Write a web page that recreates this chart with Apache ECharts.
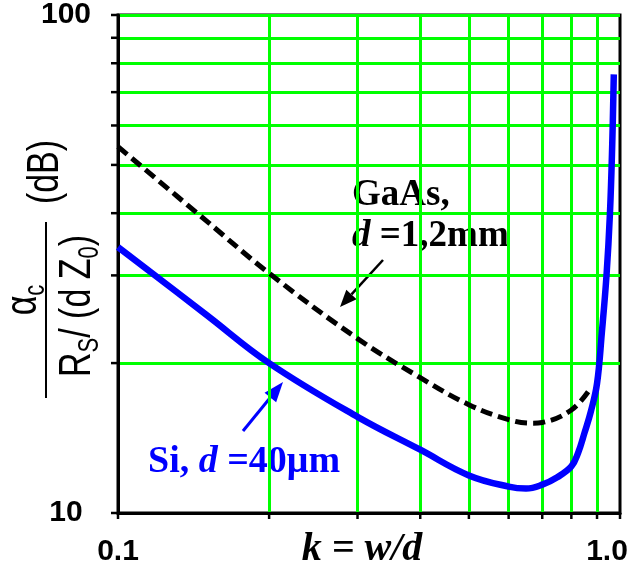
<!DOCTYPE html>
<html>
<head>
<meta charset="utf-8">
<script src="https://cdn.jsdelivr.net/npm/echarts@6/dist/echarts.min.js"></script>
<style>
html,body{margin:0;padding:0;background:#fff;}
#chart{width:631px;height:568px;}
</style>
</head>
<body>
<div id="chart"></div>
<script>
// k = w/d  ->  alpha_c / (Rs/(d Z0))  in dB
const kSi = [0.1, 0.15, 0.2, 0.3, 0.4, 0.5, 0.6, 0.65, 0.7, 0.75, 0.8, 0.825, 0.85, 0.875, 0.9, 0.92, 0.94, 0.955, 0.965, 0.972];
const alphaSi = [34.2, 25.0, 20, 15.6, 13.4, 11.9, 11.3, 11.2, 11.4, 11.8, 12.4, 13.2, 14.5, 16.0, 18.2, 23, 30, 40, 55, 76];

const kGaAs = [0.1, 0.15, 0.2, 0.3, 0.4, 0.5, 0.6, 0.67, 0.7, 0.8, 0.87];
const alphaGaAs = [54.4, 38.6, 30.3, 22.4, 18.7, 16.5, 15.4, 15.15, 15.2, 16.1, 17.7];

const xTicks = [0.1, 0.2, 0.3, 0.4, 0.5, 0.6, 0.7, 0.8, 0.9, 1];
const yTicks = [10, 20, 30, 40, 50, 60, 70, 80, 90, 100];
const xLabels = [0.1, 1];
const yLabels = [10, 100];

const SANS = 'Liberation Sans';
const SERIF = 'Liberation Serif';

// annotation arrow (shaft + filled head)
function arrow(x1, y1, x2, y2, color, w, hl, hw) {
  const dx = x2 - x1, dy = y2 - y1, len = Math.hypot(dx, dy);
  const ux = dx / len, uy = dy / len;
  const bx = x2 - ux * hl, by = y2 - uy * hl;
  return [
    {type: 'line', shape: {x1: x1, y1: y1, x2: bx, y2: by}, style: {stroke: color, lineWidth: w}},
    {type: 'polygon', shape: {points: [[x2, y2], [bx - uy * hw / 2, by + ux * hw / 2], [bx + uy * hw / 2, by - ux * hw / 2]]},
      style: {fill: color}}
  ];
}

// outward black tick marks, placed through the axis scales
function tickSeries(data, dx, dy) {
  return {
    type: 'custom', coordinateSystem: 'cartesian2d', clip: false, silent: true, z: 6,
    data: data,
    renderItem: (params, api) => {
      const p = api.coord([api.value(0), api.value(1)]);
      return {type: 'line', shape: {x1: p[0], y1: p[1], x2: p[0] + dx, y2: p[1] + dy},
        style: {stroke: '#000', lineWidth: 2.5}};
    }
  };
}

const chart = echarts.init(document.getElementById('chart'));

const rotTitle = {rotation: Math.PI / 2, scaleY: 1.3};
const hidden = 'rgba(0,0,0,0)';

const option = {
  animation: false,
  backgroundColor: '#fff',
  grid: {left: 118, right: 11, top: 15, bottom: 55, show: true, borderColor: '#000', borderWidth: 3, backgroundColor: hidden},
  xAxis: {
    type: 'log', logBase: 10, min: 0.1, max: 1,
    axisLine: {show: true, onZero: false, lineStyle: {color: '#000', width: 3}},
    axisTick: {show: true, customValues: xTicks, length: 1, lineStyle: {color: hidden, width: 1}},
    minorTick: {show: false},
    axisLabel: {
      customValues: xLabels, showMinLabel: true, showMaxLabel: true,
      formatter: v => v > 0.5 ? '{r|1.0}' : '0.1',
      color: '#000', fontFamily: SANS, fontWeight: 'bold', fontSize: 30, margin: 24,
      rich: {r: {color: '#000', fontFamily: SANS, fontWeight: 'bold', fontSize: 30, padding: [0, 26, 0, 0]}}
    },
    splitLine: {show: true, showMinLine: false, showMaxLine: false, lineStyle: {color: '#00ff00', width: 3}}
  },
  yAxis: {
    type: 'log', logBase: 10, min: 10, max: 100,
    axisLine: {show: true, onZero: false, lineStyle: {color: '#000', width: 3}},
    axisTick: {show: true, customValues: yTicks, length: 1, lineStyle: {color: hidden, width: 1}},
    minorTick: {show: false},
    axisLabel: {
      customValues: yLabels, showMinLabel: true, showMaxLabel: true,
      color: '#000', fontFamily: SANS, fontWeight: 'bold', fontSize: 30,
      align: 'center', margin: 52, padding: [16, 0, 0, 0]
    },
    splitLine: {show: true, showMinLine: false, showMaxLine: true, lineStyle: {color: '#00ff00', width: 3}}
  },
  series: [
    {
      name: 'GaAs', type: 'line', z: 2,
      data: kGaAs.map((k, i) => [k, alphaGaAs[i]]),
      symbol: 'none', smooth: 0.4,
      lineStyle: {color: '#000', width: 5, type: [12, 6], cap: 'butt'}
    },
    {
      name: 'Si', type: 'line', z: 3,
      data: kSi.map((k, i) => [k, alphaSi[i]]),
      symbol: 'none', smooth: 0.4,
      lineStyle: {color: '#0000ff', width: 6.5}
    },
    tickSeries(yTicks.map(v => [0.1, v]), -7, 0),
    tickSeries(xTicks.map(v => [v, 10]), 0, 6)
  ],
  graphic: [
    // y axis title: alpha_c / (Rs/(d Z0))  (dB)
    Object.assign({type: 'text', x: 24, y: 300, style: {
      text: '{a|α}{s|c}', align: 'center', verticalAlign: 'middle',
      rich: {
        a: {fontFamily: SANS, fontSize: 34, fill: '#000', lineHeight: 40, verticalAlign: 'middle'},
        s: {fontFamily: SANS, fontSize: 22, fill: '#000', verticalAlign: 'bottom'}
      }
    }}, rotTitle),
    {type: 'line', shape: {x1: 46, y1: 222, x2: 46, y2: 398}, style: {stroke: '#000', lineWidth: 2}},
    Object.assign({type: 'text', x: 78, y: 306, style: {
      text: '{n|R}{s|S}{n|/ (d Z}{s|0}{n|)}', align: 'center', verticalAlign: 'middle',
      rich: {
        n: {fontFamily: SANS, fontSize: 34, fill: '#000', lineHeight: 40, verticalAlign: 'middle'},
        s: {fontFamily: SANS, fontSize: 22, fill: '#000', verticalAlign: 'bottom'}
      }
    }}, rotTitle),
    Object.assign({type: 'text', x: 46, y: 172, style: {
      text: '(dB)', align: 'center', verticalAlign: 'middle',
      fontFamily: SANS, fontSize: 34, fill: '#000'
    }}, rotTitle),
    // x axis title
    {type: 'text', x: 362, y: 550, style: {
      text: 'k = w/d', align: 'center', verticalAlign: 'middle',
      fontFamily: SERIF, fontSize: 40, fontWeight: 'bold', fontStyle: 'italic', fill: '#000'
    }},
    // GaAs annotation
    {type: 'text', x: 352, y: 195, style: {
      text: 'GaAs,', verticalAlign: 'middle',
      fontFamily: SERIF, fontSize: 37, fontWeight: 'bold', fill: '#000'
    }},
    {type: 'text', x: 352, y: 236, style: {
      text: '{i|d} {n|=1,2mm}', verticalAlign: 'middle',
      fontFamily: SERIF, fontSize: 37, fontWeight: 'bold', fill: '#000',
      rich: {
        i: {fontFamily: SERIF, fontSize: 37, fontWeight: 'bold', fontStyle: 'italic', fill: '#000'},
        n: {fontFamily: SERIF, fontSize: 37, fontWeight: 'bold', fill: '#000'}
      }
    }},
    ...arrow(383, 260, 340, 307, '#000', 2.5, 17, 14),
    // Si annotation
    {type: 'text', x: 148, y: 462, style: {
      text: '{n|Si, }{i|d}{n| =40μm}', verticalAlign: 'middle',
      fontFamily: SERIF, fontSize: 38, fontWeight: 'bold', fill: '#0000ff',
      rich: {
        i: {fontFamily: SERIF, fontSize: 38, fontWeight: 'bold', fontStyle: 'italic', fill: '#0000ff'},
        n: {fontFamily: SERIF, fontSize: 38, fontWeight: 'bold', fill: '#0000ff'}
      }
    }},
    ...arrow(243, 431, 283, 382, '#0000ff', 3, 20, 15)
  ]
};

chart.setOption(option);
</script>
</body>
</html>
